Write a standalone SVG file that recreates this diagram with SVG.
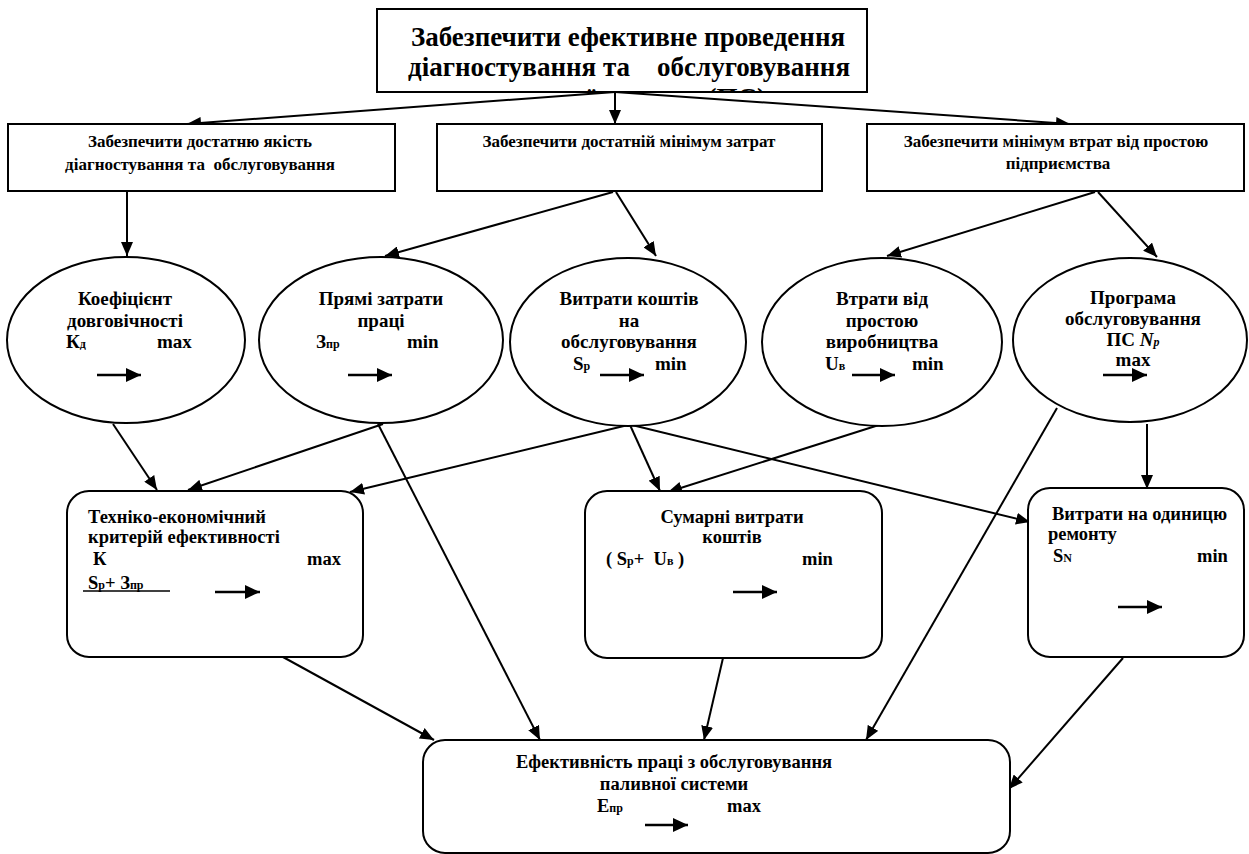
<svg xmlns="http://www.w3.org/2000/svg" width="1249" height="854" viewBox="0 0 1249 854">
<style>
.box{fill:#fff;stroke:#000;stroke-width:2}
.t{font-family:'Liberation Serif','Times New Roman',serif;font-weight:bold;fill:#000;white-space:pre}
.t17{font-size:17px}
.t18{font-size:18.5px}
.t19{font-size:19px}
.t27{font-size:27px}
.c{text-anchor:middle}
.sub{font-size:12px}
.con{fill:none;stroke:#000;stroke-width:2;marker-end:url(#ah)}
.ptr{fill:none;stroke:#000;stroke-width:2.5;marker-end:url(#ah2)}
</style>
<defs>
<marker id="ah" markerUnits="userSpaceOnUse" markerWidth="14" markerHeight="12" viewBox="0 0 14 12" refX="14" refY="6" orient="auto">
<path d="M0,0 L14,6 L0,12 z" fill="#000"/>
</marker>
<marker id="ah2" markerUnits="userSpaceOnUse" markerWidth="15" markerHeight="14" viewBox="0 0 15 14" refX="15" refY="7" orient="auto">
<path d="M0,0 L15,7 L0,14 z" fill="#000"/>
</marker>
<clipPath id="topclip"><rect x="378" y="10" width="488" height="81"/></clipPath>
</defs>
<rect width="1249" height="854" fill="#fff"/>

<g id="connectors">
<line class="con" x1="615" y1="92" x2="187" y2="124"/>
<line class="con" x1="615" y1="92" x2="615" y2="124"/>
<line class="con" x1="615" y1="92" x2="1070" y2="124"/>
<line class="con" x1="127" y1="191" x2="127" y2="256"/>
<line class="con" x1="613" y1="192" x2="385" y2="256"/>
<line class="con" x1="616" y1="192" x2="656" y2="256"/>
<line class="con" x1="1095" y1="192" x2="887" y2="256"/>
<line class="con" x1="1098" y1="192" x2="1157" y2="257"/>
<line class="con" x1="113" y1="424" x2="157" y2="490"/>
<line class="con" x1="383" y1="424" x2="188" y2="490"/>
<line class="con" x1="378" y1="424" x2="540" y2="740"/>
<line class="con" x1="628" y1="425" x2="350" y2="492"/>
<line class="con" x1="630" y1="425" x2="660" y2="491"/>
<line class="con" x1="632" y1="425" x2="1030" y2="522"/>
<line class="con" x1="882" y1="424" x2="668" y2="492"/>
<line class="con" x1="1057" y1="408" x2="866" y2="740"/>
<line class="con" x1="1147" y1="424" x2="1147" y2="489"/>
<line class="con" x1="283" y1="657" x2="434" y2="740"/>
<line class="con" x1="723" y1="658" x2="704" y2="740"/>
<line class="con" x1="1123" y1="658" x2="1009" y2="789"/>
</g>

<g id="goal">
<rect class="box" x="377" y="9" width="490" height="83"/>
<text class="t t27 c" x="628" y="46">Забезпечити ефективне проведення</text>
<text class="t t27 c" x="629" y="76">діагностування та    обслуговування</text>
<text class="t t27 c" x="625" y="107" clip-path="url(#topclip)">паливної системи (ПС)</text>
</g>

<g id="quality">
<rect class="box" x="8" y="124" width="387" height="67"/>
<text class="t t17 c" x="200" y="147">Забезпечити достатню якість</text>
<text class="t t17 c" x="200" y="170">діагностування та  обслуговування</text>
</g>

<g id="costs">
<rect class="box" x="437" y="124" width="385" height="67"/>
<text class="t t17 c" x="629" y="147">Забезпечити достатній мінімум затрат</text>
</g>

<g id="losses">
<rect class="box" x="867" y="124" width="377" height="67"/>
<text class="t t17 c" x="1056" y="147">Забезпечити мінімум втрат від простою</text>
<text class="t t17 c" x="1058" y="169">підприємства</text>
</g>

<g id="e-durability">
<ellipse class="box" cx="126" cy="340" rx="119" ry="83"/>
<text class="t t19 c" x="125" y="305">Коефіцієнт</text>
<text class="t t19 c" x="125" y="327">довговічності</text>
<text class="t t19" x="66" y="348">К<tspan class="sub">д</tspan></text>
<text class="t t19" x="157" y="348">max</text>
<line class="ptr" x1="97" y1="375" x2="141" y2="375"/>
</g>

<g id="e-labour">
<ellipse class="box" cx="381" cy="340" rx="122" ry="83"/>
<text class="t t19 c" x="381" y="305">Прямі затрати</text>
<text class="t t19 c" x="381" y="327">праці</text>
<text class="t t19" x="316" y="348">З<tspan class="sub">пр</tspan></text>
<text class="t t19" x="407" y="348">min</text>
<line class="ptr" x1="348" y1="375" x2="392" y2="375"/>
</g>

<g id="e-service">
<ellipse class="box" cx="628" cy="342" rx="118" ry="84"/>
<text class="t t19 c" x="629" y="305">Витрати коштів</text>
<text class="t t19 c" x="629" y="327">на</text>
<text class="t t19 c" x="629" y="348">обслуговування</text>
<text class="t t19" x="573" y="370">S<tspan class="sub">р</tspan></text>
<text class="t t19" x="655" y="370">min</text>
<line class="ptr" x1="600" y1="375" x2="644" y2="375"/>
</g>

<g id="e-downtime">
<ellipse class="box" cx="882" cy="342" rx="120" ry="84"/>
<text class="t t19 c" x="882" y="305">Втрати від</text>
<text class="t t19 c" x="882" y="327">простою</text>
<text class="t t19 c" x="882" y="348">виробництва</text>
<text class="t t19" x="825" y="370">U<tspan class="sub">в</tspan></text>
<text class="t t19" x="912" y="370">min</text>
<line class="ptr" x1="852" y1="375" x2="895" y2="375"/>
</g>

<g id="e-program">
<ellipse class="box" cx="1130" cy="340" rx="117" ry="82"/>
<text class="t t19 c" x="1133" y="304">Програма</text>
<text class="t t19 c" x="1133" y="325">обслуговування</text>
<text class="t t19 c" x="1133" y="346">ПС <tspan font-style="italic">N<tspan class="sub">p</tspan></tspan></text>
<text class="t t19 c" x="1133" y="366">max</text>
<line class="ptr" x1="1103" y1="375" x2="1147" y2="375"/>
</g>

<g id="b-criterion">
<rect class="box" x="67" y="491" width="296" height="166" rx="22"/>
<text class="t t18" x="88" y="523">Техніко-економічний</text>
<text class="t t18" x="88" y="543">критерій ефективності</text>
<text class="t t18" x="93" y="565">К</text>
<text class="t t18" x="307" y="565">max</text>
<text class="t t18" x="88" y="589">S<tspan class="sub">р</tspan>+ З<tspan class="sub">пр</tspan></text>
<line x1="83" y1="591" x2="170" y2="591" stroke="#000" stroke-width="1.5"/>
<line class="ptr" x1="215" y1="592" x2="260" y2="592"/>
</g>

<g id="b-total">
<rect class="box" x="585" y="491" width="297" height="167" rx="22"/>
<text class="t t18 c" x="732" y="523">Сумарні витрати</text>
<text class="t t18 c" x="732" y="543">коштів</text>
<text class="t t18" x="606" y="565">( S<tspan class="sub">р</tspan>+  U<tspan class="sub">в</tspan> )</text>
<text class="t t18" x="802" y="565">min</text>
<line class="ptr" x1="733" y1="592" x2="777" y2="592"/>
</g>

<g id="b-unit">
<rect class="box" x="1028" y="488" width="216" height="169" rx="22"/>
<text class="t t18" x="1052" y="520">Витрати на одиницю</text>
<text class="t t18" x="1048" y="540">ремонту</text>
<text class="t t18" x="1053" y="562">S<tspan class="sub">N</tspan></text>
<text class="t t18" x="1197" y="562">min</text>
<line class="ptr" x1="1118" y1="607" x2="1162" y2="607"/>
</g>

<g id="b-efficiency">
<rect class="box" x="423" y="740" width="587" height="113" rx="22"/>
<text class="t t18 c" x="674" y="768">Ефективність праці з обслуговування</text>
<text class="t t18 c" x="674" y="790">паливної системи</text>
<text class="t t18" x="597" y="812">Е<tspan class="sub">пр</tspan></text>
<text class="t t18" x="727" y="812">max</text>
<line class="ptr" x1="645" y1="825" x2="688" y2="825"/>
</g>
</svg>
